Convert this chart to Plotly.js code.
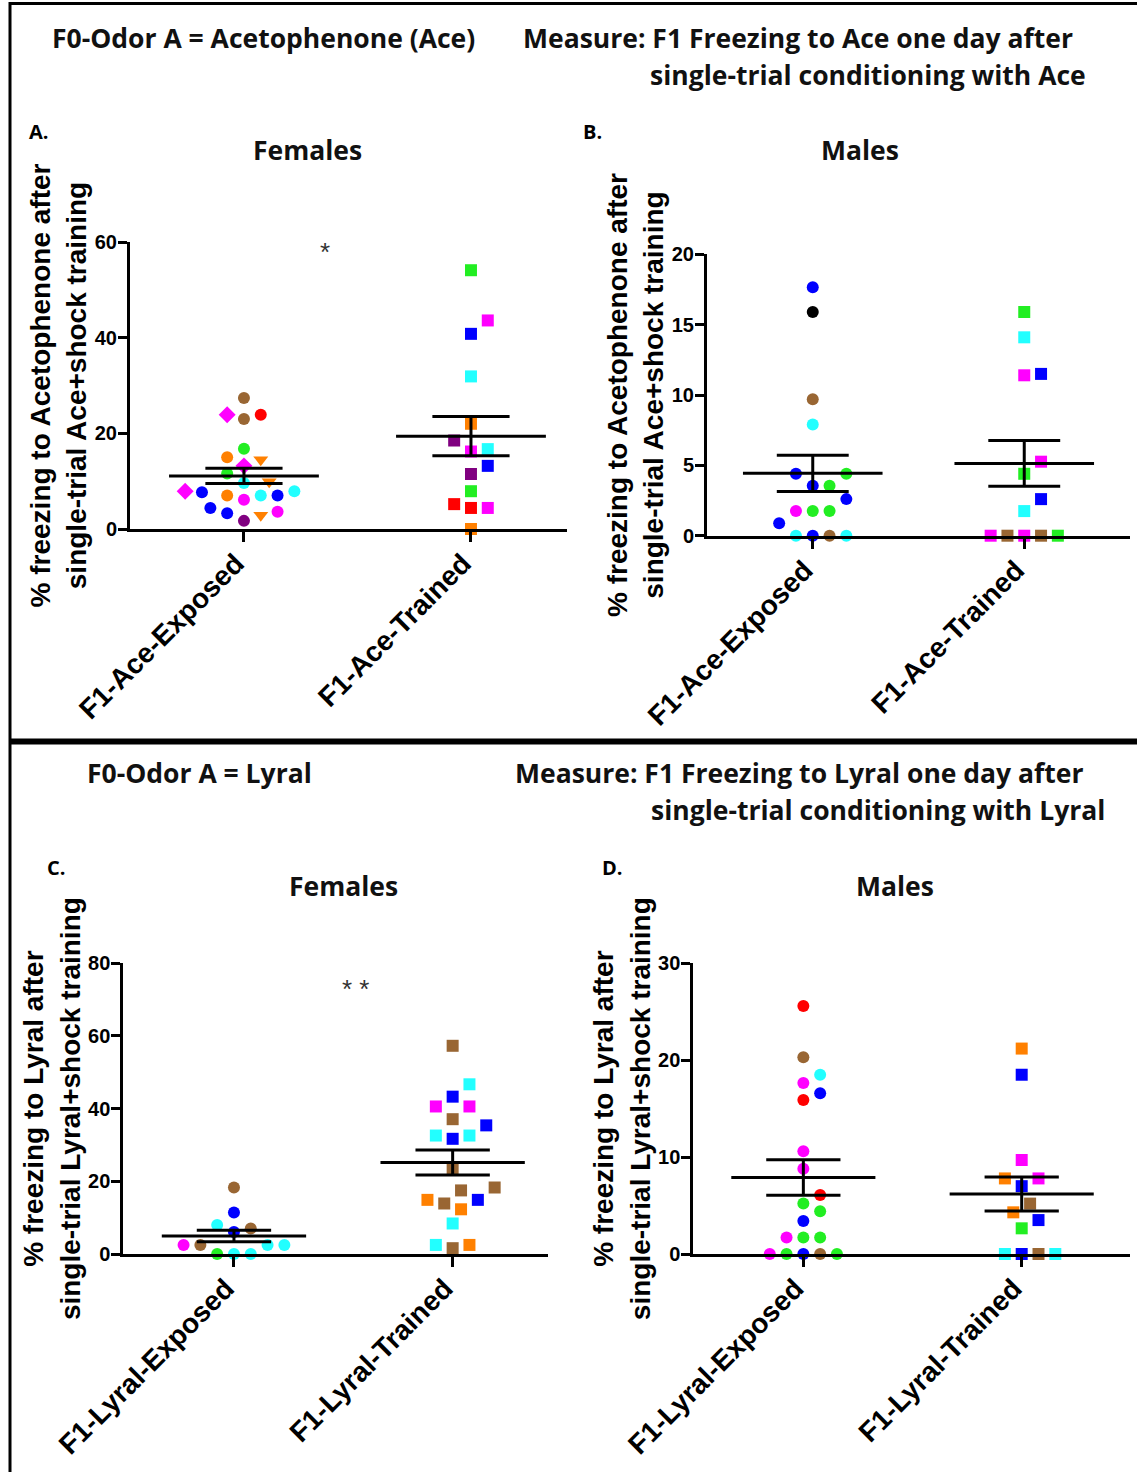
<!DOCTYPE html>
<html><head><meta charset="utf-8">
<script src="https://cdn.plot.ly/plotly-3.0.1.min.js"></script>
<style>html,body{margin:0;padding:0;background:#fff}#chart{width:1137px;height:1472px}</style>
</head><body><div id="chart"></div>
<script>
// ---------------- DATA ----------------
const aceGroups = ['F1-Ace-Exposed', 'F1-Ace-Trained'];
const lyralGroups = ['F1-Lyral-Exposed', 'F1-Lyral-Trained'];

// Panel A: Females, Ace
const aExposedValues = [27.4, 23.9, 23.0, 23.9, 16.8, 14.5, 15.0, 13.2, 11.6, 9.9, 9.6, 7.9, 7.0, 7.0, 6.1, 7.0, 7.7, 7.9, 4.4, 3.3, 2.9, 3.6, 1.7];
const aExposedLitter = ['brown','red','brown','magenta','green','orange','orange','magenta','green','orange','cyan','cyan','cyan','orange','magenta','blue','blue','magenta','blue','blue','orange','magenta','purple'];
const aExposedShape = ['circle','circle','circle','diamond','circle','triangle-down','circle','diamond','circle','triangle-down','circle','circle','circle','circle','circle','circle','circle','diamond','circle','circle','triangle-down','circle','circle'];
const aTrainedValues = [54.1, 43.6, 40.8, 31.9, 22.0, 18.5, 16.7, 16.2, 13.2, 11.5, 7.9, 4.4, 4.4, 5.2, 0];
const aTrainedLitter = ['green','magenta','blue','cyan','orange','purple','cyan','magenta','blue','purple','green','red','magenta','red','orange'];
const aMean = [11.1, 19.4];
const aSem = [1.6, 4.1];

// Panel B: Males, Ace
const bExposedValues = [17.65, 15.9, 9.7, 7.9, 4.4, 4.4, 3.55, 3.55, 2.6, 1.75, 1.75, 1.75, 0.88, 0, 0, 0, 0];
const bExposedLitter = ['blue','black','brown','cyan','blue','green','blue','green','blue','green','green','magenta','blue','blue','brown','cyan','cyan'];
const bTrainedValues = [15.9, 14.1, 11.5, 11.4, 5.26, 4.4, 2.6, 1.75, 0, 0, 0, 0, 0];
const bTrainedLitter = ['green','cyan','blue','magenta','magenta','green','blue','cyan','magenta','brown','brown','green','magenta'];
const bMean = [4.43, 5.14];
const bSem = [1.28, 1.63];

// Panel C: Females, Lyral
const cExposedValues = [18.3, 11.4, 8.0, 7.0, 6.05, 2.5, 2.5, 2.5, 2.5, 0, 0, 0];
const cExposedLitter = ['brown','blue','cyan','brown','blue','cyan','brown','cyan','magenta','cyan','cyan','green'];
const cTrainedValues = [57.3, 46.7, 43.3, 40.6, 40.6, 37.1, 35.4, 32.6, 31.7, 32.6, 23.6, 18.3, 17.5, 14.9, 13.9, 14.9, 12.3, 8.4, 2.5, 2.5, 1.6];
const cTrainedLitter = ['brown','cyan','blue','magenta','magenta','brown','blue','cyan','blue','cyan','brown','brown','brown','blue','brown','orange','orange','cyan','orange','cyan','brown'];
const cMean = [4.95, 25.2];
const cSem = [1.6, 3.45];

// Panel D: Males, Lyral
const dExposedValues = [25.6, 20.3, 18.5, 17.65, 16.6, 15.9, 10.6, 8.8, 6.1, 5.2, 4.4, 3.4, 1.7, 1.7, 1.7, 0, 0, 0, 0, 0];
const dExposedLitter = ['red','brown','cyan','magenta','blue','red','magenta','magenta','red','green','green','blue','green','green','magenta','blue','brown','green','green','magenta'];
const dTrainedValues = [21.2, 18.5, 9.7, 7.8, 7.8, 7.0, 5.2, 4.3, 3.5, 2.65, 0, 0, 0, 0];
const dTrainedLitter = ['orange','blue','magenta','magenta','orange','blue','brown','orange','blue','green','blue','brown','cyan','cyan'];
const dMean = [7.9, 6.2];
const dSem = [1.83, 1.75];

// ---------------- STYLE ----------------
const palette = {blue:'#0000ff', red:'#ff0000', green:'#22ee22', cyan:'#22ffff', magenta:'#ff00ff',
  orange:'#ff8000', brown:'#996633', purple:'#800080', black:'#000000'};
const W = 1137, H = 1472;
const px = x => x / W;
const py = y => 1 - y / H;
const ARIAL = '"Liberation Sans", Arial, sans-serif';
const axisFont = {family: ARIAL, size: 20, color: '#000'};
const catFont = {family: ARIAL, size: 28, color: '#000'};
const titleFont = {family: ARIAL, size: 28, color: '#000'};
const headFont = {family: '"Open Sans", sans-serif', size: 26.5, color: '#111', weight: 700};
const letterFont = {family: '"Open Sans", sans-serif', size: 20, color: '#000', weight: 700};
const b = s => '<b>' + s + '</b>';

function swarm(values, pxPerY, pxPerX, step, minDist) {
  const idx = values.map((v, i) => i).sort((a, b) => values[a] - values[b]);
  const placed = [];
  const off = new Array(values.length).fill(0);
  for (const i of idx) {
    const yy = values[i] * pxPerY;
    for (let k = 0; k < 200; k++) {
      const cand = k === 0 ? 0 : (k % 2 === 1 ? 1 : -1) * Math.ceil(k / 2) * step;
      let ok = true;
      for (const p of placed) {
        const dx = p.x - cand, dy = p.y - yy;
        if (dx * dx + dy * dy < minDist * minDist) { ok = false; break; }
      }
      if (ok) { placed.push({x: cand, y: yy}); off[i] = cand / pxPerX; break; }
    }
  }
  return off;
}

const traces = [];
const layout = {
  width: W, height: H, margin: {l:0, r:0, t:0, b:0}, showlegend: false,
  paper_bgcolor: '#fff', plot_bgcolor: 'rgba(0,0,0,0)',
  annotations: [], shapes: []
};

function panel(n, box, xr, yr, yticks, labels, ytitle, groups, mean, sem) {
  const xa = 'x' + (n === 1 ? '' : n), ya = 'y' + (n === 1 ? '' : n);
  const xkey = 'xaxis' + (n === 1 ? '' : n), ykey = 'yaxis' + (n === 1 ? '' : n);
  const pxPerX = (box.x1 - box.x0) / (xr[1] - xr[0]);
  const pxPerY = (box.y1 - box.y0) / (yr[1] - yr[0]);
  groups.forEach((g, gi) => {
    const off = swarm(g.values, pxPerY, pxPerX, 8.4, 16);
    traces.push({
      type: 'scatter', mode: 'markers', xaxis: xa, yaxis: ya, cliponaxis: false, opacity: 1,
      x: g.values.map((v, i) => gi + off[i]), y: g.values, hoverinfo: 'y',
      marker: {
        color: g.litter.map(c => palette[c]), opacity: 1,
        symbol: g.shape,
        size: g.shape.map(s => s === 'square' ? 12 : (s === 'circle' ? 12 : 13)),
        line: {width: 0}
      }
    });
  });
  const lx = [], ly = [];
  mean.forEach((m, gi) => {
    const s = sem[gi];
    lx.push(gi - 0.33, gi + 0.33, null, gi - 0.17, gi + 0.17, null, gi - 0.17, gi + 0.17, null, gi, gi, null);
    ly.push(m, m, null, m + s, m + s, null, m - s, m - s, null, m - s, m + s, null);
  });
  traces.push({type: 'scatter', mode: 'lines', xaxis: xa, yaxis: ya, cliponaxis: false,
    x: lx, y: ly, line: {color: '#000', width: 3}, hoverinfo: 'skip'});
  layout[xkey] = {
    domain: [px(box.x0), px(box.x1)], range: xr, anchor: ya,
    tickmode: 'array', tickvals: [0, 1], ticktext: labels.map(b), tickangle: -45,
    ticks: 'outside', ticklen: 10, tickwidth: 3, tickcolor: '#000',
    ticklabelshift: -8, ticklabelstandoff: -6,
    showline: true, linewidth: 3, linecolor: '#000', showgrid: false, zeroline: false,
    tickfont: catFont, fixedrange: true
  };
  layout[ykey] = {
    domain: [py(box.y1), py(box.y0)], range: yr, anchor: xa,
    tickmode: 'array', tickvals: yticks, ticktext: yticks.map(v => b(String(v))),
    ticks: 'outside', ticklen: 9, tickwidth: 3, tickcolor: '#000', ticklabelstandoff: -3,
    showline: true, linewidth: 3, linecolor: '#000', showgrid: false, zeroline: false,
    tickfont: axisFont, fixedrange: true,
    title: {text: ytitle.split('\n').map(b).join('<br>'), font: titleFont, standoff: 0}
  };
}

panel(1, {x0:130, x1:567, y0:242, y1:529}, [-0.502, 1.423], [0, 60], [0, 20, 40, 60], aceGroups,
  '% freezing to Acetophenone after\nsingle-trial Ace+shock training',
  [{values:aExposedValues, litter:aExposedLitter, shape:aExposedShape},
   {values:aTrainedValues, litter:aTrainedLitter, shape:aTrainedValues.map(() => 'square')}], aMean, aSem);
panel(2, {x0:707, x1:1130, y0:254.3, y1:535.7}, [-0.5, 1.5], [0, 20], [0, 5, 10, 15, 20], aceGroups,
  '% freezing to Acetophenone after\nsingle-trial Ace+shock training',
  [{values:bExposedValues, litter:bExposedLitter, shape:bExposedValues.map(() => 'circle')},
   {values:bTrainedValues, litter:bTrainedLitter, shape:bTrainedValues.map(() => 'square')}], bMean, bSem);
panel(3, {x0:123.3, x1:548, y0:963.3, y1:1254}, [-0.506, 1.436], [0, 80], [0, 20, 40, 60, 80], lyralGroups,
  '% freezing to Lyral after\nsingle-trial Lyral+shock training',
  [{values:cExposedValues, litter:cExposedLitter, shape:cExposedValues.map(() => 'circle')},
   {values:cTrainedValues, litter:cTrainedLitter, shape:cTrainedValues.map(() => 'square')}], cMean, cSem);
panel(4, {x0:693.3, x1:1130, y0:963.3, y1:1254}, [-0.504, 1.496], [0, 30], [0, 10, 20, 30], lyralGroups,
  '% freezing to Lyral after\nsingle-trial Lyral+shock training',
  [{values:dExposedValues, litter:dExposedLitter, shape:dExposedValues.map(() => 'circle')},
   {values:dTrainedValues, litter:dTrainedLitter, shape:dTrainedValues.map(() => 'square')}], dMean, dSem);

function note(text, x, y, anchor, font) {
  layout.annotations.push({text, x: px(x), y: py(y), xref: 'paper', yref: 'paper',
    xanchor: anchor, yanchor: 'middle', showarrow: false, font: font || headFont});
}
note('F0-Odor A = Acetophenone (Ace)', 50, 38, 'left');
note('Measure: F1 Freezing to Ace one day after', 521, 38, 'left');
note('single-trial conditioning with Ace', 648, 75, 'left');
note('A.', 27, 131, 'left', letterFont);
note('B.', 581, 131, 'left', letterFont);
note('Females', 307, 150, 'center');
note('Males', 860, 150, 'center');
note('*', 325, 252, 'center', {family: ARIAL, size: 26, color: '#333'});
note('F0-Odor A = Lyral', 85, 773, 'left');
note('Measure: F1 Freezing to Lyral one day after', 513, 773, 'left');
note('single-trial conditioning with Lyral', 649, 810, 'left');
note('C.', 45, 867, 'left', letterFont);
note('D.', 600, 867, 'left', letterFont);
note('Females', 343, 886, 'center');
note('Males', 895, 886, 'center');
note('* *', 355, 989, 'center', {family: ARIAL, size: 26, color: '#333'});

// frame lines
layout.shapes.push(
  {type:'line', xref:'paper', yref:'paper', x0:px(10), x1:px(10), y0:py(2), y1:py(H), line:{color:'#000', width:3}},
  {type:'line', xref:'paper', yref:'paper', x0:px(9), x1:px(W), y0:py(3.5), y1:py(3.5), line:{color:'#000', width:3}},
  {type:'line', xref:'paper', yref:'paper', x0:px(9), x1:px(W), y0:py(741.5), y1:py(741.5), line:{color:'#000', width:6}}
);

Plotly.newPlot('chart', traces, layout, {displayModeBar: false, staticPlot: true});
</script>
</body></html>
